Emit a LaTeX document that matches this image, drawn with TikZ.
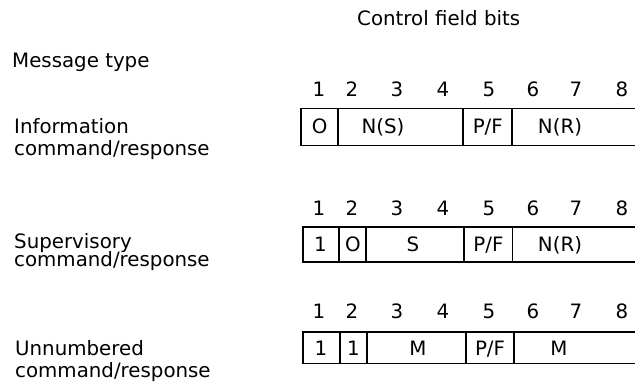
\documentclass[tikz,border=0pt]{standalone}
\usepackage{fontspec}
\setmainfont{DejaVu Sans}
\usepackage{tikz}
\tikzset{
  framebox/.style={line width=1.7pt,black},
  fieldtext/.style={anchor=base,inner sep=0pt,font=\fontsize{19.8}{22}\selectfont},
  bitnum/.style={anchor=base,inner sep=0pt,font=\fontsize{19.8}{22}\selectfont},
  typelabel/.style={anchor=base west,inner sep=0pt,font=\fontsize{19.8}{22}\selectfont}
}

\begin{document}
\begin{tikzpicture}[x=1pt,y=-1pt]
  \useasboundingbox (0,0) rectangle (635,384);
  \clip (0,0) rectangle (635,384);

  \node[typelabel] (title) at (357,25) {Control field bits};
  \node[typelabel] (msgtype) at (12,67) {Message type};

  \node[typelabel] (info) at (14,133.3) {Information};
  \node[typelabel] (infob) at (14,155) {command/response};
  \node[typelabel] (super) at (14,248.3) {Supervisory};
  \node[typelabel] (superb) at (14,266.5) {command/response};
  \node[typelabel] (unnum) at (15,355) {Unnumbered};
  \node[typelabel] (unnumb) at (15,377) {command/response};

  \foreach \x [count=\i] in {319,352,397,443,489,533,576,622} {
    \node[bitnum] (na\i) at (\x,96.7) {\i};
    \node[bitnum] (nb\i) at (\x,215) {\i};
    \node[bitnum] (nc\i) at (\x,318.3) {\i};
  }

  \draw[framebox] (301,108.5) rectangle (660,145.5);
  \foreach \x in {338.3,463.3,512.3}
    \draw[framebox] (\x,108.5) -- (\x,145.5);
  \node[fieldtext] (ia) at (319.7,133.3) {O};
  \node[fieldtext] (ib) at (383,133.3) {N(S)};
  \node[fieldtext] (ic) at (487.8,133.3) {P/F};
  \node[fieldtext] (id) at (560,133.3) {N(R)};

  \draw[framebox] (302.7,227.3) rectangle (660,261.7);
  \foreach \x in {339.3,366,464.3,512.5}
    \draw[framebox] (\x,227.3) -- (\x,261.7);
  \node[fieldtext] (sa) at (320.5,251.7) {1};
  \node[fieldtext] (sb) at (353,251.7) {O};
  \node[fieldtext] (sc) at (413,251.7) {S};
  \node[fieldtext] (sd) at (488.4,251.7) {P/F};
  \node[fieldtext] (se) at (560,251.7) {N(R)};

  \draw[framebox] (303.3,332) rectangle (660,363.5);
  \foreach \x in {340,366.7,465.7,514.3}
    \draw[framebox] (\x,332) -- (\x,363.5);
  \node[fieldtext] (ua) at (321,355) {1};
  \node[fieldtext] (ub) at (353.5,355) {1};
  \node[fieldtext] (uc) at (418,355) {M};
  \node[fieldtext] (ud) at (490,355) {P/F};
  \node[fieldtext] (ue) at (559,355) {M};
\end{tikzpicture}
\end{document}
